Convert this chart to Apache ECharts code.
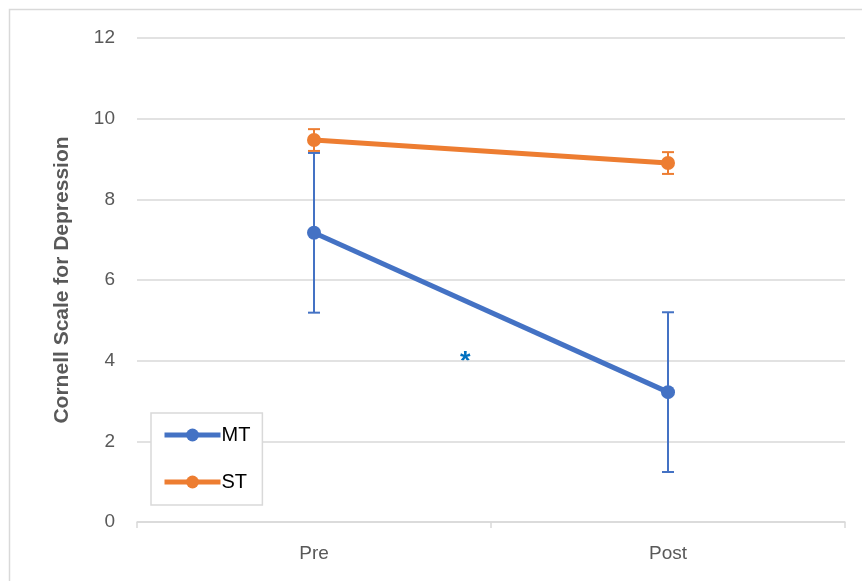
<!DOCTYPE html>
<html>
<head>
<meta charset="utf-8">
<script src="https://cdn.jsdelivr.net/npm/echarts@6/dist/echarts.min.js"></script>
<style>
  html, body { margin: 0; padding: 0; background: #fff; }
  #chart { width: 862px; height: 581px; }
</style>
</head>
<body>
<div id="chart"></div>
<script>
  var categories = ['Pre', 'Post'];
  var mtValues = [7.17, 3.22];
  var mtErrors = [1.98, 1.98];
  var stValues = [9.47, 8.90];
  var stErrors = [0.27, 0.27];
  var yTicks = [0, 2, 4, 6, 8, 10, 12];

  var FONT = 'Liberation Sans, Arial, sans-serif';
  var MT_COLOR = '#4472C4';
  var ST_COLOR = '#ED7D31';

  function errorSeries(name, values, errors, color) {
    var data = values.map(function (v, i) { return [i, v - errors[i], v + errors[i]]; });
    return {
      type: 'custom',
      name: name + ' err',
      z: 1,
      silent: true,
      data: data,
      encode: { x: 0, y: [1, 2] },
      renderItem: function (params, api) {
        var lo = api.coord([api.value(0), api.value(1)]);
        var hi = api.coord([api.value(0), api.value(2)]);
        var half = 6;
        var style = { stroke: color, lineWidth: 2 };
        return {
          type: 'group',
          children: [
            { type: 'line', shape: { x1: lo[0], y1: lo[1], x2: hi[0], y2: hi[1] }, style: style },
            { type: 'line', shape: { x1: lo[0] - half, y1: lo[1], x2: lo[0] + half, y2: lo[1] }, style: style },
            { type: 'line', shape: { x1: hi[0] - half, y1: hi[1], x2: hi[0] + half, y2: hi[1] }, style: style }
          ]
        };
      }
    };
  }

  function lineSeries(name, values, color) {
    return {
      type: 'line',
      name: name,
      z: 3,
      data: values,
      symbol: 'circle',
      symbolSize: 14,
      itemStyle: { color: color },
      lineStyle: { color: color, width: 5 }
    };
  }

  var chart = echarts.init(document.getElementById('chart'));
  chart.setOption({
    animation: false,
    backgroundColor: '#fff',
    grid: { left: 137, right: 17, top: 38, bottom: 59 },
    legend: {
      data: ['MT', 'ST'],
      orient: 'vertical',
      left: 151,
      top: 413,
      padding: [12, 12, 13, 11],
      itemGap: 27,
      itemWidth: 56,
      itemHeight: 16,
      borderColor: '#d9d9d9',
      borderWidth: 1.5,
      backgroundColor: '#fff',
      lineStyle: { width: 5 },
      textStyle: { fontFamily: FONT, fontSize: 20, color: '#000', padding: [0, 0, 0, -4] }
    },
    xAxis: {
      type: 'category',
      data: categories,
      boundaryGap: true,
      axisLine: { lineStyle: { color: '#d9d9d9', width: 1.5 } },
      axisTick: { show: true, lineStyle: { color: '#d9d9d9', width: 1.5 }, length: 6 },
      axisLabel: { fontFamily: FONT, fontSize: 19, color: '#595959', margin: 22 }
    },
    yAxis: {
      type: 'value',
      min: yTicks[0],
      max: yTicks[yTicks.length - 1],
      interval: 2,
      name: 'Cornell Scale for Depression',
      nameLocation: 'middle',
      nameGap: 64,
      nameTextStyle: { fontFamily: FONT, fontSize: 21, fontWeight: 'bold', color: '#595959' },
      axisLine: { show: false },
      axisTick: { show: false },
      axisLabel: { fontFamily: FONT, fontSize: 19, color: '#595959', margin: 22 },
      splitLine: { lineStyle: { color: '#d9d9d9', width: 1.5 } }
    },
    graphic: [
      { type: 'rect', silent: true, z: -10, shape: { x: 9.5, y: 9.5, width: 900, height: 600 },
        style: { fill: 'none', stroke: '#d9d9d9', lineWidth: 1.5 } },
      { type: 'text', left: 460, top: 349, style: { text: '*', fill: '#0070C0', font: 'bold 27px ' + FONT } }
    ],
    series: [
      errorSeries('MT', mtValues, mtErrors, MT_COLOR),
      errorSeries('ST', stValues, stErrors, ST_COLOR),
      lineSeries('MT', mtValues, MT_COLOR),
      lineSeries('ST', stValues, ST_COLOR)
    ]
  });
</script>
</body>
</html>
